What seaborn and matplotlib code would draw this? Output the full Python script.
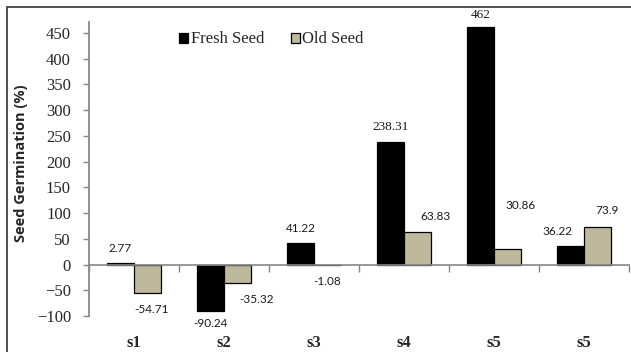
import matplotlib
matplotlib.use("Agg")
import matplotlib.pyplot as plt
from matplotlib.patches import Rectangle
from matplotlib.ticker import FixedLocator, MultipleLocator
import seaborn as sns
import pandas as pd

# Germination change per sample
samples = ["s1", "s2", "s3", "s4", "s5", "s5"]
fresh_seed = [2.77, -90.24, 41.22, 238.31, 462, 36.22]
old_seed = [-54.71, -35.32, -1.08, 63.83, 30.86, 73.9]
series_names = ["Fresh Seed", "Old Seed"]

sns.set_theme(style="white")
plt.rcParams["font.family"] = ["Liberation Serif", "DejaVu Serif"]

# sample ids repeat, so plot against position and label the ticks afterwards
rows = []
for i, (f, o) in enumerate(zip(fresh_seed, old_seed)):
    rows.append({"pos": i, "series": series_names[0], "value": f})
    rows.append({"pos": i, "series": series_names[1], "value": o})
df = pd.DataFrame(rows)

fig = plt.figure(figsize=(6.31, 3.52), dpi=100)
ax = fig.add_axes([0.141, 0.102, 0.856, 0.835])

grey = "#868686"
sns.barplot(data=df, x="pos", y="value", hue="series",
            palette=["#000000", "#C4BD97"], width=0.6,
            edgecolor="black", linewidth=0.9, ax=ax, legend=True)

ax.set_ylim(-100, 471)
ax.set_xlim(-0.5, len(samples) - 0.5)
ax.yaxis.set_major_locator(MultipleLocator(50))

for s in ["top", "right"]:
    ax.spines[s].set_visible(False)
ax.spines["left"].set_color(grey)
ax.spines["left"].set_bounds(-100, 471)
ax.spines["bottom"].set_position(("data", 0))
ax.spines["bottom"].set_color(grey)
ax.spines["bottom"].set_linewidth(1.2)

ax.tick_params(axis="y", direction="out", length=4, color=grey, width=1,
               pad=9, labelsize=12, left=True)
ax.set_xticks(range(len(samples)))
ax.set_xticklabels(samples, fontweight="bold", fontsize=12)
ax.xaxis.set_minor_locator(FixedLocator([k - 0.5 for k in range(len(samples) + 1)]))
ax.tick_params(axis="x", which="major", length=0, pad=51)
ax.tick_params(axis="x", which="minor", direction="out", length=5,
               color=grey, width=1, bottom=True)
ax.set_xlabel("")
ax.set_ylabel("Seed Germination (%)", family=["Open Sans", "DejaVu Sans"],
              fontweight="bold", fontsize=10.5, labelpad=8)
ax.yaxis.set_label_coords(-0.113, 0.52)

# value labels: (dx, dy) offsets in pixels from the bar end, and font
fresh_off = [(0, 15), (0, -12), (0, 15), (0, 15), (0, 12), (-13, 14)]
old_off = [(4, -17), (19, -17), (0, -16), (18, 15), (13, 43), (9, 16)]
fresh_font = ["sans", "sans", "sans", "serif", "serif", "sans"]
old_font = ["sans"] * 6

containers = ax.containers
for cont, vals, offs, fonts in [(containers[0], fresh_seed, fresh_off, fresh_font),
                                (containers[1], old_seed, old_off, old_font)]:
    for bar, v, (dx, dy), fnt in zip(cont, vals, offs, fonts):
        x = bar.get_x() + bar.get_width() / 2
        y = v
        fam = ["Liberation Serif"] if fnt == "serif" else ["Lato", "DejaVu Sans"]
        size = 9.5 if fnt == "serif" else 8.5
        ax.annotate(f"{v:g}", (x, y), xytext=(dx, dy), textcoords="offset pixels",
                    ha="center", va="center", fontsize=size, family=fam,
                    color="#1a1a1a", annotation_clip=False)

leg = ax.legend(loc="upper left", bbox_to_anchor=(0.145, 1.008), ncol=2,
                frameon=False, fontsize=12, handlelength=0.55, handleheight=0.55,
                handletextpad=0.15, columnspacing=1.6, borderpad=0.2)

# outer chart frame
fig.patches.append(Rectangle((7 / 631, -0.1), 1.2, 1 - 7 / 352 + 0.1,
                             transform=fig.transFigure, fill=False,
                             edgecolor="#333333", linewidth=1.2))

fig.savefig("out.png", dpi=100)
